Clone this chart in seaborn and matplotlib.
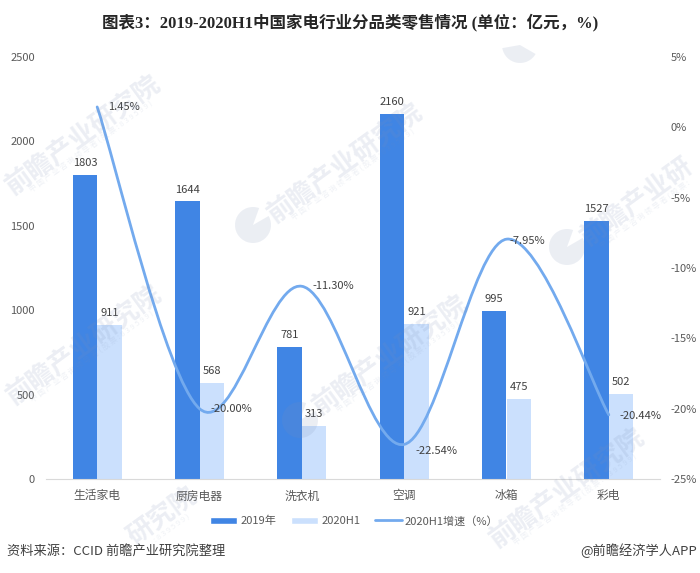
# Third party imports
import numpy as np
import pandas as pd
import seaborn as sns
from matplotlib import pyplot as plt
from matplotlib.lines import Line2D
from matplotlib.patches import Patch, PathPatch, Wedge
from matplotlib.path import Path

# Chart data
CATEGORIES = ['生活家电', '厨房电器', '洗衣机', '空调', '冰箱', '彩电']
SALES_2019 = [1803, 1644, 781, 2160, 995, 1527]
SALES_2020H1 = [911, 568, 313, 921, 475, 502]
GROWTH = [1.45, -20.00, -11.30, -22.54, -7.95, -20.44]
SERIES_NAMES = ['2019年', '2020H1']
LINE_NAME = '2020H1增速（%）'

# Colours
DARK_BLUE = '#4085e4'
LIGHT_BLUE = '#cbe0fd'
LINE_BLUE = '#73aaee'
TEXT = '#595959'
LABEL = '#404040'
MARK = '#7f90b5'

# Font size
FS = 8

# Figure height in inches, watermark helpers work from the top-left in pixels
H = 5.73

# Watermark wording
MARK_NAME = '前瞻产业研究院'
MARK_SUB = '中 国 产 业 咨 询 领 导 者 ( 股 票 : 8 3 9 5 9 9 )'

sns.set_style('white')
plt.rcParams['font.family'] = ['Noto Sans CJK SC', 'DejaVu Sans']
plt.rcParams['axes.unicode_minus'] = False

fig = plt.figure(figsize=(7, H), dpi=100)
ax = fig.add_axes([46 / 700, 1 - 479 / 573, 614 / 700, 422 / 573])

# Bars
df = pd.DataFrame({
    'category': CATEGORIES * 2,
    'sales': SALES_2019 + SALES_2020H1,
    'series': [SERIES_NAMES[0]] * 6 + [SERIES_NAMES[1]] * 6,
})
sns.barplot(data=df, x='category', y='sales', hue='series', order=CATEGORIES, palette=[DARK_BLUE, LIGHT_BLUE],
            width=0.48, saturation=1, linewidth=0, legend=False, ax=ax, zorder=2)

for container, values in zip(ax.containers, [SALES_2019, SALES_2020H1]):
    ax.bar_label(container, labels=[str(v) for v in values], padding=5, fontsize=FS, color=LABEL)

ax.set_xlim(-0.5, 5.5)
ax.set_ylim(0, 2500)
ax.set_yticks(range(0, 2501, 500))
ax.tick_params(axis='y', length=0, labelsize=FS, labelcolor=TEXT, pad=8)
ax.tick_params(axis='x', length=0, labelsize=FS + 0.5, labelcolor=TEXT, pad=7.5)
ax.set_xlabel('')
ax.set_ylabel('')
for side in ['top', 'left', 'right']:
    ax.spines[side].set_visible(False)
ax.spines['bottom'].set_color('#d9d9d9')

# Growth line on the right axis, smoothed with bezier segments through the points
ax2 = ax.twinx()
ax2.set_ylim(-25, 5)
ax2.set_yticks(range(-25, 6, 5))
ax2.set_yticklabels(['{}%'.format(v) for v in range(-25, 6, 5)])
ax2.tick_params(axis='y', length=0, labelsize=FS, labelcolor=TEXT, pad=7.5)
for side in ['top', 'left', 'right', 'bottom']:
    ax2.spines[side].set_visible(False)

pts = np.column_stack([np.arange(len(GROWTH)), GROWTH])
verts = [pts[0]]
codes = [Path.MOVETO]
for i in range(len(pts) - 1):
    prev_pt = pts[max(i - 1, 0)]
    next_pt = pts[min(i + 2, len(pts) - 1)]
    verts += [pts[i] + (pts[i + 1] - prev_pt) / 6, pts[i + 1] - (next_pt - pts[i]) / 6, pts[i + 1]]
    codes += [Path.CURVE4] * 3
ax2.add_patch(PathPatch(Path(verts, codes), fill=False, edgecolor=LINE_BLUE, linewidth=2, capstyle='round'))

# Growth labels, nudged the way the source has them
offsets = [(8, 0), (8, 0), (8, 0), (8, -5), (2, -1), (8, -1)]
for i, (value, off) in enumerate(zip(GROWTH, offsets)):
    ax2.annotate('{:.2f}%'.format(value), (i, value), xytext=off, textcoords='offset points',
                 fontsize=FS, color=LABEL, ha='left', va='center')


# Watermarks sit over the chart, the ones at the picture's edges only show part of the wording
def watermark(px, py, name, sub):
    fig.text(px / 700, 1 - py / 573, name, color=MARK, alpha=0.15, fontsize=19, fontweight='bold',
             rotation=36, rotation_mode='anchor', ha='center', va='center', zorder=5)
    fig.text((px + 9) / 700, 1 - (py + 12) / 573, sub, color=MARK, alpha=0.12, fontsize=5.5,
             rotation=36, rotation_mode='anchor', ha='center', va='center', zorder=5)


def logo(px, py, start=70, end=30):
    fig.add_artist(Wedge((px / 100, H - py / 100), 0.18, start, end, transform=fig.dpi_scale_trans,
                         facecolor=MARK, edgecolor='none', alpha=0.15, zorder=5))


watermark(83, 135, MARK_NAME, MARK_SUB)
watermark(345, 163, MARK_NAME, MARK_SUB)
watermark(84, 345, MARK_NAME, MARK_SUB)
watermark(390, 355, MARK_NAME, MARK_SUB)
watermark(567, 488, MARK_NAME, MARK_SUB)
watermark(637, 202, MARK_NAME[:5], MARK_SUB[:26])
watermark(163, 517, MARK_NAME[4:], MARK_SUB[-15:])

logo(253, 225)
logo(567, 247)
logo(300, 420)
logo(520, 45, 190, 330)

# Title, legend and footer
fig.text(350 / 700, 1 - 22 / 573, '图表3：2019-2020H1中国家电行业分品类零售情况 (单位：亿元，%)', fontsize=11.9,
         fontweight='bold', color='#262626', ha='center', va='center', family=['Liberation Serif', 'Noto Sans CJK SC'])
handles = [
    Patch(facecolor=DARK_BLUE, label=SERIES_NAMES[0]),
    Patch(facecolor=LIGHT_BLUE, label=SERIES_NAMES[1]),
    Line2D([0], [0], color=LINE_BLUE, linewidth=2, label=LINE_NAME),
]
leg = fig.legend(handles=handles, loc='center', bbox_to_anchor=(354.5 / 700, 1 - 521 / 573), ncol=3, frameon=False,
                 fontsize=FS, labelcolor=TEXT, handlelength=2.4, handleheight=0.7, columnspacing=1.33,
                 handletextpad=0.3)
leg.set_zorder(6)
fig.text(7 / 700, 1 - 551 / 573, '资料来源：CCID 前瞻产业研究院整理', fontsize=9.5, color=LABEL, va='center')
fig.text(697 / 700, 1 - 551 / 573, '@前瞻经济学人APP', fontsize=9.5, color=LABEL, va='center', ha='right')

fig.savefig('out.png', dpi=100)
